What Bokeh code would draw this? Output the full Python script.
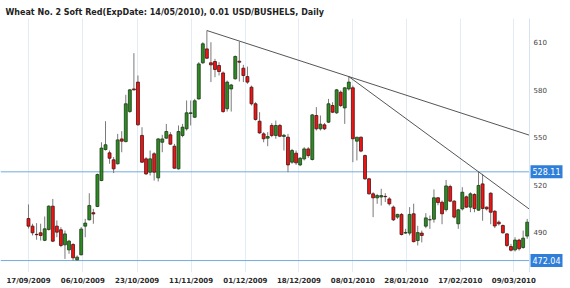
import numpy as np
from bokeh.plotting import figure
from bokeh.models import Range1d, FixedTicker, Span, Label
from bokeh.embed import file_html
from bokeh.resources import INLINE

TITLE = "Wheat  No. 2 Soft Red(ExpDate: 14/05/2010), 0.01 USD/BUSHELS, Daily"

opens = [498.6, 493.8, 488.6, 489.6, 484.8, 491.7, 506.4, 493.8, 491.5, 482.0,
         478.8, 482.2, 472.5, 475.7, 493.8, 497.8, 502.3, 506.2, 522.6, 542.2,
         540.1, 535.7, 533.2, 548.9, 547.2, 566.2, 580.5, 584.8, 551.1, 536.3,
         527.9, 539.5, 524.3, 546.8, 549.4, 551.5, 544.3, 530.0, 551.1, 555.3,
         565.0, 562.6, 574.2, 597.0, 605.8, 597.0, 597.8, 595.3, 590.6, 568.0,
         580.5, 586.9, 598.0, 593.6, 588.3, 581.6, 571.1, 560.1, 552.1, 549.4,
         557.4, 551.1, 557.4, 550.5, 550.0, 534.2, 539.9, 532.5, 536.3, 542.6,
         535.9, 563.7, 555.3, 557.8, 559.5, 570.0, 565.4, 578.4, 568.5, 580.5,
         581.2, 547.5, 550.0, 538.4, 523.7, 514.2, 511.7, 512.2, 512.6, 511.0,
         505.8, 499.5, 501.2, 489.4, 489.4, 501.6, 484.7, 489.4, 493.8, 497.8,
         498.2, 511.7, 508.9, 504.2, 518.8, 509.6, 495.3, 504.7, 512.3, 505.8,
         513.8, 503.9, 520.5, 505.8, 514.6, 503.2, 496.3, 494.2, 488.9, 480.9,
         478.8, 485.0, 480.3, 487.5]
highs = [507.5, 495.3, 495.7, 495.3, 499.9, 507.0, 511.0, 497.4, 493.1, 491.0,
         485.1, 483.0, 475.3, 493.2, 498.4, 514.6, 504.7, 527.0, 546.8, 560.1,
         541.6, 537.4, 552.1, 553.8, 576.8, 580.5, 603.1, 589.0, 556.3, 537.4,
         541.6, 540.5, 549.4, 551.5, 558.4, 553.2, 545.8, 557.4, 558.4, 573.2,
         573.2, 574.2, 597.4, 610.0, 617.4, 610.0, 599.5, 597.4, 591.5, 585.8,
         583.7, 601.6, 610.4, 595.7, 594.6, 582.6, 572.1, 565.8, 553.2, 553.2,
         558.9, 560.5, 558.4, 552.1, 552.1, 542.6, 541.6, 537.4, 543.7, 543.7,
         564.7, 569.0, 563.7, 559.0, 574.2, 572.1, 580.5, 579.5, 581.6, 588.3,
         582.6, 550.0, 550.4, 539.0, 524.3, 515.2, 514.2, 517.4, 514.6, 512.1,
         506.8, 501.6, 502.0, 492.1, 505.8, 508.0, 494.0, 491.0, 502.0, 500.5,
         517.0, 512.1, 510.0, 523.0, 520.0, 510.2, 504.7, 518.4, 513.1, 515.2,
         514.6, 528.11, 526.8, 506.2, 515.2, 503.9, 497.4, 494.8, 489.4, 482.6,
         486.8, 485.8, 491.0, 498.4]
lows = [492.3, 487.9, 485.2, 484.7, 484.3, 491.0, 483.7, 486.8, 480.5, 473.1,
        476.3, 472.04, 472.1, 475.3, 486.8, 497.4, 495.3, 505.8, 522.2, 541.6,
        533.2, 527.3, 532.7, 540.5, 546.8, 565.4, 579.5, 557.4, 533.8, 526.2,
        525.8, 522.6, 522.0, 540.5, 549.0, 545.2, 530.0, 529.6, 550.0, 554.2,
        557.4, 562.2, 573.8, 596.3, 599.5, 584.8, 587.9, 589.0, 565.4, 566.2,
        566.2, 586.4, 585.2, 584.8, 583.7, 570.0, 560.5, 552.1, 546.8, 544.3,
        550.0, 549.0, 550.0, 541.6, 527.9, 533.2, 532.5, 531.7, 535.3, 537.0,
        535.3, 554.2, 554.2, 554.5, 559.0, 565.2, 564.7, 569.0, 558.4, 579.5,
        534.2, 535.3, 540.5, 523.0, 513.8, 499.5, 507.9, 506.8, 509.0, 506.8,
        497.0, 498.4, 487.9, 488.9, 487.9, 483.5, 481.6, 483.5, 492.5, 492.1,
        496.0, 507.0, 495.0, 503.0, 509.0, 498.7, 492.1, 503.7, 505.3, 502.6,
        502.6, 503.5, 497.2, 503.7, 495.0, 492.6, 494.2, 489.0, 480.5, 477.8,
        477.8, 478.4, 479.5, 485.8]
closes = [493.8, 489.6, 488.4, 487.9, 492.1, 506.4, 484.3, 490.0, 481.6, 488.9,
          484.3, 473.8, 474.2, 491.9, 495.7, 506.8, 501.5, 526.4, 543.1, 545.2,
          536.7, 530.0, 548.3, 547.5, 571.1, 579.9, 579.9, 557.8, 534.2, 526.8,
          536.3, 527.9, 548.9, 548.9, 553.6, 545.6, 530.4, 553.6, 556.3, 565.4,
          565.4, 573.0, 596.3, 609.0, 599.9, 595.7, 592.8, 591.5, 566.2, 584.8,
          583.0, 601.0, 597.4, 589.0, 584.8, 571.1, 561.2, 552.7, 549.0, 550.4,
          551.1, 557.4, 550.6, 551.2, 532.5, 541.6, 533.8, 536.7, 542.6, 538.4,
          564.1, 555.3, 558.2, 555.3, 571.1, 565.8, 579.9, 570.0, 581.2, 584.8,
          549.0, 550.0, 541.2, 523.7, 514.2, 511.7, 513.1, 513.1, 512.4, 507.9,
          497.8, 501.2, 488.5, 489.8, 501.2, 484.0, 489.7, 487.9, 499.0, 497.9,
          511.7, 508.7, 501.6, 519.2, 509.6, 499.5, 504.1, 515.2, 505.8, 514.2,
          504.9, 519.5, 505.0, 504.7, 502.6, 493.9, 495.3, 489.6, 481.6, 478.6,
          485.0, 479.5, 486.2, 496.3]

tick_labels = ["17/09/2009", "06/10/2009", "23/10/2009", "11/11/2009", "01/12/2009",
               "18/12/2009", "08/01/2010", "28/01/2010", "17/02/2010", "09/03/2010"]
tick_bars = [0, 13.4, 26.8, 40.1, 53.5, 66.7, 80.0, 93.2, 106.5, 119.7]
price_ticks = [490, 520, 550, 580, 610]
levels = [528.11, 472.04]
trend_anchors = [(44, 79), (79, 111)]

o = np.array(opens); h = np.array(highs); l = np.array(lows); c = np.array(closes)
idx = np.arange(len(o))
up = c >= o

# price-panel edge (where the price scale starts) and full range incl. scale area
X0, X1, XR = -6.9, 123.57, 133.68
p = figure(frame_width=570, frame_height=254, x_range=Range1d(X0, XR), y_range=Range1d(464.5, 625),
           output_backend="svg", toolbar_location=None,
           min_border_left=0, min_border_right=0, min_border_top=18, min_border_bottom=16,
           background_fill_color="white", border_fill_color="white")
p.outline_line_color = None
p.yaxis.visible = False

p.title.text = TITLE
p.title.text_font = "DejaVu Sans"
p.title.text_font_size = "8px"
p.title.text_font_style = "bold"
p.title.text_color = "#222222"
p.title.align = "left"
p.title.offset = 5
p.title.standoff = 4

# time axis
p.xaxis.ticker = FixedTicker(ticks=tick_bars)
p.xaxis.major_label_overrides = {t: s for t, s in zip(tick_bars, tick_labels)}
p.xaxis.axis_line_color = None
p.xaxis.major_tick_line_color = None
p.xaxis.major_tick_out = 0
p.xaxis.major_tick_in = 0
p.xaxis.minor_tick_line_color = None
p.xaxis.minor_tick_out = 0
p.xaxis.axis_label_standoff = 0
p.xaxis.major_label_text_font = "DejaVu Sans"
p.xaxis.major_label_text_font_size = "7px"
p.xaxis.major_label_text_font_style = "bold"
p.xaxis.major_label_text_color = "#2a2a2a"
p.xaxis.major_label_standoff = 4

p.xgrid.ticker = FixedTicker(ticks=tick_bars)
p.xgrid.grid_line_color = "#e3ebf5"
p.ygrid.grid_line_color = None

# price scale on the right: axis line + labels
p.add_layout(Span(location=X1, dimension="height", line_color="#d6e2ef", line_width=1))
p.text(x=[X1] * len(price_ticks), y=price_ticks, text=[str(t) for t in price_ticks],
       x_offset=4, text_baseline="middle", text_align="left",
       text_font={"value": "DejaVu Sans"}, text_font_size="7px", text_color="#444444")

# level lines
for lv in levels:
    p.segment(x0=[X0], y0=[lv], x1=[X1], y1=[lv], line_color="#74a9dc", line_width=1)

# candles
p.segment(x0=idx, y0=l, x1=idx, y1=h, line_color="#7a7a7a", line_width=1)
p.vbar(x=idx[up], width=0.72, top=c[up], bottom=o[up], fill_color="#2e8a24",
       line_color="#1c3a14", line_width=0.8)
p.vbar(x=idx[~up], width=0.72, top=o[~up], bottom=c[~up], fill_color="#f01414",
       line_color="#4a1010", line_width=0.8)

# trend lines
for a, b in trend_anchors:
    slope = (h[b] - h[a]) / (b - a)
    p.line([a, X1], [h[a], h[a] + slope * (X1 - a)], line_color="#555555", line_width=1)

# level labels on the price scale
for lv in levels:
    p.add_layout(Label(x=X1, y=lv, x_offset=1, text=f"{lv:.2f}",
                       text_baseline="middle",
                       text_font="DejaVu Sans", text_font_size="8px", text_color="white",
                       background_fill_color="#2f7ed8", padding=(2, 3)))

open("out.html", "w").write(file_html(p, INLINE))
